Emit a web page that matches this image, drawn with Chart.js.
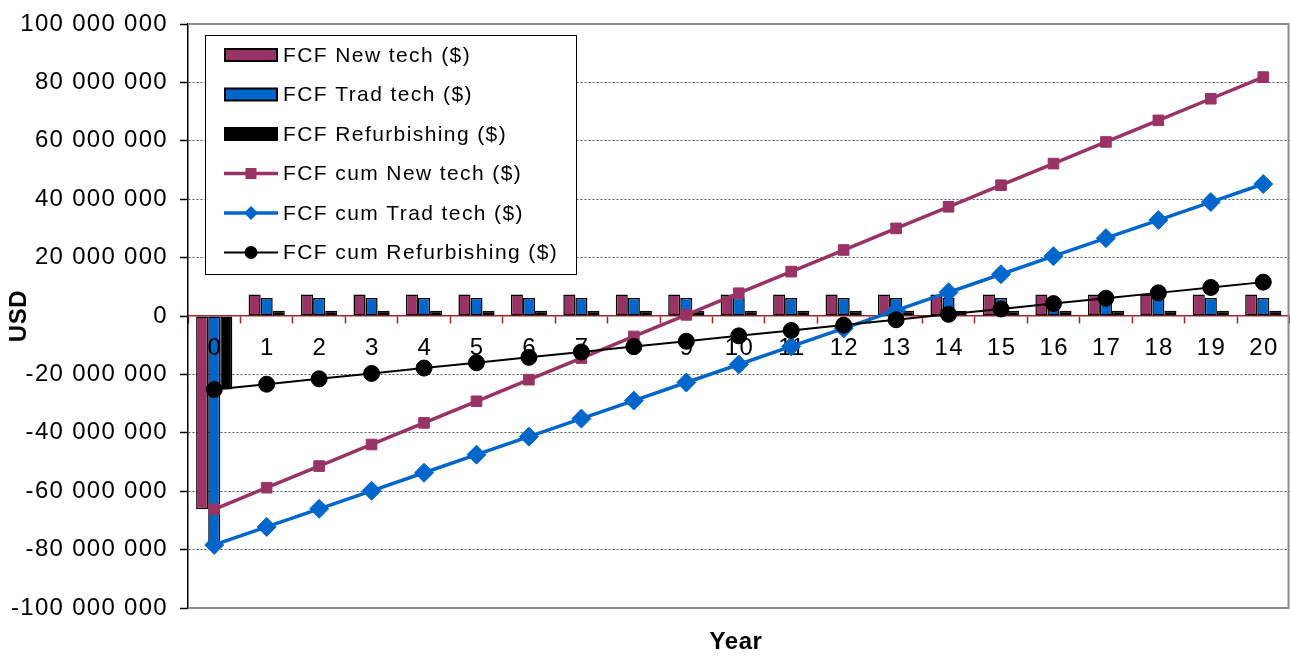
<!DOCTYPE html>
<html>
<head>
<meta charset="utf-8">
<title>Free cash flow comparison</title>
<script src="https://cdn.jsdelivr.net/npm/chart.js@4.4.1/dist/chart.umd.min.js"></script>
<style>
  html, body { margin: 0; padding: 0; background: #ffffff; overflow: hidden; width: 1290px; height: 657px; }
  canvas { display: block; }
</style>
</head>
<body>
<canvas id="fcf" width="1300" height="657"></canvas>
<script>
// Project years
const years = ['0','1','2','3','4','5','6','7','8','9','10','11','12','13','14','15','16','17','18','19','20'];

// Yearly free cash flow, millions of USD
const fcfNewTech = [-66.2, 7.4, 7.4, 7.4, 7.4, 7.4, 7.4, 7.4, 7.4, 7.4, 7.4, 7.4, 7.4, 7.4, 7.4, 7.4, 7.4, 7.4, 7.4, 7.4, 7.4];
const fcfTradTech = [-78.4, 6.18, 6.18, 6.18, 6.18, 6.18, 6.18, 6.18, 6.18, 6.18, 6.18, 6.18, 6.18, 6.18, 6.18, 6.18, 6.18, 6.18, 6.18, 6.18, 6.18];
const fcfRefurb = [-25.2, 1.84, 1.84, 1.84, 1.84, 1.84, 1.84, 1.84, 1.84, 1.84, 1.84, 1.84, 1.84, 1.84, 1.84, 1.84, 1.84, 1.84, 1.84, 1.84, 1.84];

// Cumulative free cash flow, millions of USD
const cumNewTech = [-66.2, -58.8, -51.4, -44.0, -36.6, -29.2, -21.8, -14.4, -7.0, 0.4, 7.8, 15.2, 22.6, 30.0, 37.4, 44.8, 52.2, 59.6, 67.0, 74.4, 81.8];
const cumTradTech = [-78.4, -72.22, -66.04, -59.86, -53.68, -47.5, -41.32, -35.14, -28.96, -22.78, -16.6, -10.42, -4.24, 1.94, 8.12, 14.3, 20.48, 26.66, 32.84, 39.02, 45.2];
const cumRefurb = [-25.2, -23.36, -21.52, -19.68, -17.84, -16.0, -14.16, -12.32, -10.48, -8.64, -6.8, -4.96, -3.12, -1.28, 0.56, 2.4, 4.24, 6.08, 7.92, 9.76, 11.6];

// Value axis ticks, USD
const yTicks = [-100000000, -80000000, -60000000, -40000000, -20000000, 0, 20000000, 40000000, 60000000, 80000000, 100000000];

const seriesNames = [
  'FCF New tech ($)', 'FCF Trad tech ($)', 'FCF Refurbishing ($)',
  'FCF cum New tech ($)', 'FCF cum Trad tech ($)', 'FCF cum Refurbishing ($)'
];

const MILLION = 1e6;
const toUsd = arr => arr.map(v => Math.round(v * MILLION));

const PLUM = '#993366';
const BLUE = '#0066CC';
const BLACK = '#000000';
const AXIS_RED = '#A0282D';
const FRAME_GREY = '#8C8C8C';
const FONT = "'Liberation Sans', Arial, sans-serif";

function formatUsd(v) {
  const neg = v < 0;
  const s = Math.abs(Math.round(v)).toString().replace(/\B(?=(\d{3})+(?!\d))/g, ' ');
  return (neg ? '-' : '') + s;
}

let yearLabelsDrawn = false;

function drawYearLabels(chart) {
  const ctx = chart.ctx;
  const x = chart.scales.x;
  const y0 = chart.scales.y.getPixelForValue(0);
  ctx.save();
  ctx.font = '24px ' + FONT;
  ctx.letterSpacing = '1.3px';
  ctx.fillStyle = '#000';
  ctx.textAlign = 'center';
  ctx.textBaseline = 'middle';
  years.forEach((lab, i) => {
    ctx.fillText(lab, x.getPixelForValue(i) + 0.7, y0 + 32);
  });
  ctx.restore();
}

function drawMarker(ctx, style, cx, cy, r, color) {
  ctx.fillStyle = color;
  ctx.beginPath();
  if (style === 'rect') {
    ctx.rect(cx - r, cy - r, 2 * r, 2 * r);
  } else if (style === 'rectRot') {
    ctx.moveTo(cx - r, cy);
    ctx.lineTo(cx, cy - r);
    ctx.lineTo(cx + r, cy);
    ctx.lineTo(cx, cy + r);
    ctx.closePath();
  } else {
    ctx.arc(cx, cy, r, 0, Math.PI * 2);
  }
  ctx.fill();
}

const chartDecor = {
  id: 'chartDecor',
  beforeDraw(chart) {
    chart.ctx.letterSpacing = '1.3px';
  },
  beforeDatasetsDraw(chart) {
    yearLabelsDrawn = false;
    const {ctx, chartArea: a} = chart;
    // grey frame on top, right and bottom of the plot area
    ctx.save();
    ctx.strokeStyle = FRAME_GREY;
    ctx.lineWidth = 2;
    ctx.beginPath();
    ctx.moveTo(a.left, a.top);
    ctx.lineTo(a.right - 1, a.top);
    ctx.lineTo(a.right - 1, a.bottom);
    ctx.lineTo(a.left, a.bottom);
    ctx.stroke();
    ctx.restore();
  },
  beforeDatasetDraw(chart, args) {
    // year labels sit above the bars but beneath the cumulative lines
    if (!yearLabelsDrawn && args.meta.type === 'line') {
      drawYearLabels(chart);
      yearLabelsDrawn = true;
    }
  },
  afterDatasetsDraw(chart) {
    const ctx = chart.ctx;
    if (!yearLabelsDrawn) { drawYearLabels(chart); yearLabelsDrawn = true; }

    // axis titles
    ctx.save();
    ctx.fillStyle = '#000';
    ctx.font = 'bold 24px ' + FONT;
    ctx.letterSpacing = '0.6px';
    ctx.textAlign = 'center';
    ctx.textBaseline = 'middle';
    ctx.fillText('Year', 736, 642);
    ctx.translate(19, 316);
    ctx.rotate(-Math.PI / 2);
    ctx.fillText('USD', 0, 0);
    ctx.restore();

    // legend box
    const bx = 205.5, by = 35.5, bw = 371, bh = 239;
    ctx.save();
    ctx.fillStyle = '#fff';
    ctx.fillRect(bx, by, bw, bh);
    ctx.strokeStyle = '#000';
    ctx.lineWidth = 1;
    ctx.strokeRect(bx, by, bw, bh);

    ctx.font = '21px ' + FONT;
    ctx.letterSpacing = '1.4px';
    ctx.textAlign = 'left';
    ctx.textBaseline = 'middle';
    chart.data.datasets.forEach((ds, i) => {
      const cy = 55 + i * 39.5;
      if (ds.type === 'line') {
        ctx.strokeStyle = ds.borderColor;
        ctx.lineWidth = ds.borderWidth;
        ctx.beginPath();
        ctx.moveTo(224, cy);
        ctx.lineTo(278, cy);
        ctx.stroke();
        const r = ds.pointStyle === 'rect' ? 5.5 : (ds.pointStyle === 'rectRot' ? 7 : 6.5);
        drawMarker(ctx, ds.pointStyle, 251, cy, r, ds.pointBackgroundColor);
      } else {
        ctx.fillStyle = ds.backgroundColor;
        ctx.fillRect(225, cy - 6, 52, 12);
        ctx.strokeStyle = '#000';
        ctx.lineWidth = 2;
        ctx.strokeRect(225, cy - 6, 52, 12);
      }
      ctx.fillStyle = '#000';
      ctx.fillText(ds.label, 283, cy + 1);
    });
    ctx.restore();
  }
};

const barStyle = (color) => ({
  type: 'bar',
  backgroundColor: color,
  borderColor: BLACK,
  borderWidth: 1.5,
  borderSkipped: false,
  categoryPercentage: 0.69,
  barPercentage: 1.0,
  order: 10
});

new Chart(document.getElementById('fcf'), {
  type: 'bar',
  data: {
    labels: years,
    datasets: [
      Object.assign(barStyle(PLUM), { label: seriesNames[0], data: toUsd(fcfNewTech) }),
      Object.assign(barStyle(BLUE), { label: seriesNames[1], data: toUsd(fcfTradTech) }),
      Object.assign(barStyle(BLACK), { label: seriesNames[2], data: toUsd(fcfRefurb) }),
      {
        type: 'line', label: seriesNames[3], data: toUsd(cumNewTech),
        borderColor: PLUM, borderWidth: 3.5, tension: 0,
        pointStyle: 'rect', pointRadius: 7.5,
        pointBackgroundColor: PLUM, pointBorderColor: PLUM, pointBorderWidth: 1,
        order: 2
      },
      {
        type: 'line', label: seriesNames[4], data: toUsd(cumTradTech),
        borderColor: BLUE, borderWidth: 3.5, tension: 0,
        pointStyle: 'rectRot', pointRadius: 9.5,
        pointBackgroundColor: BLUE, pointBorderColor: BLUE, pointBorderWidth: 1,
        order: 1
      },
      {
        type: 'line', label: seriesNames[5], data: toUsd(cumRefurb),
        borderColor: BLACK, borderWidth: 2, tension: 0,
        pointStyle: 'circle', pointRadius: 8,
        pointBackgroundColor: BLACK, pointBorderColor: BLACK, pointBorderWidth: 1,
        order: 0
      }
    ]
  },
  options: {
    responsive: false,
    animation: false,
    devicePixelRatio: 1,
    layout: { padding: { top: 24, right: 2, bottom: 49, left: 0 } },
    plugins: {
      legend: { display: false },
      tooltip: { enabled: false },
      title: { display: false }
    },
    scales: {
      x: {
        type: 'category',
        position: { y: 0 },
        offset: true,
        ticks: { display: false, padding: 0 },
        grid: {
          offset: true,
          drawOnChartArea: false,
          drawTicks: true,
          tickLength: 7,
          tickColor: AXIS_RED,
          tickWidth: 1.5,
          color: AXIS_RED
        },
        border: { display: true, color: AXIS_RED, width: 1.5 }
      },
      y: {
        type: 'linear',
        min: yTicks[0],
        max: yTicks[yTicks.length - 1],
        afterBuildTicks: (scale) => { scale.ticks = yTicks.map(v => ({ value: v })); },
        afterFit: (scale) => { scale.width = 188; },
        ticks: {
          callback: (v) => formatUsd(v),
          color: '#000',
          font: { family: FONT, size: 24, lineHeight: 1 },
          padding: 12
        },
        grid: {
          color: (c) => {
            const v = c.tick ? c.tick.value : null;
            return (v === 0 || v === yTicks[0] || v === yTicks[yTicks.length - 1]) ? 'rgba(0,0,0,0)' : '#555555';
          },
          lineWidth: 1,
          drawTicks: true,
          tickLength: 8,
          tickColor: '#000',
          tickWidth: 1.5
        },
        border: { display: true, color: '#000', width: 1.5, dash: [2, 2] }
      }
    }
  },
  plugins: [chartDecor]
});
</script>
</body>
</html>
